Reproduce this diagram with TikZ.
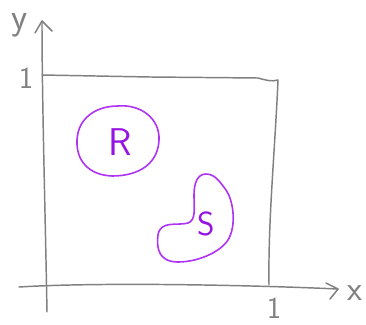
\documentclass[tikz,border=0pt]{standalone}
\usepackage{fontspec}
\definecolor{pen}{RGB}{128,128,128}
\definecolor{blob}{RGB}{175,50,245}
\definecolor{blobtext}{RGB}{150,20,225}
\begin{document}
\begin{tikzpicture}[x=0.75pt,y=-0.75pt,
  axis/.style={draw=pen,line width=1.1pt,line cap=round,line join=round},
  region/.style={draw=blob,line width=1.2pt},
  lbl/.style={text=pen,inner sep=0pt,font=\sffamily\fontsize{#1}{#1}\selectfont},
  rlbl/.style={text=blobtext,inner sep=0pt,font=\sffamily\fontsize{#1}{#1}\selectfont}]
\useasboundingbox (0,0) rectangle (366,324);
% axes
\coordinate (o) at (45,286);
\coordinate (ystart) at (47,312);
\coordinate (ytip) at (42,21);
\coordinate (xstart) at (19,287);
\coordinate (xtip) at (338,289);
\draw[axis] (ystart) .. controls (45,200) and (42,100) .. (ytip);
\draw[axis] (35,33) -- (ytip) -- (52,31);
\draw[axis] (xstart) .. controls (100,282) and (250,285) .. (xtip);
\draw[axis] (326,283) -- (xtip) -- (330,299);
% unit square
\coordinate (tl) at (42,75);
\coordinate (tr) at (278,80);
\coordinate (br) at (269,285);
\draw[axis] (tl) -- (150,77) -- (258,78) .. controls (265,80) and (272,82) .. (tr) .. controls (275,150) and (268,220) .. (br);
% labels
\node[lbl=28] (ylab) at (20,25) {y};
\node[lbl=23] (one_y) at (26,78) {1};
\node[lbl=23] (one_x) at (274,308) {1};
\node[lbl=26] (xlab) at (355,293) {x};
% region R
\draw[region] (118,106) .. controls (140,104) and (160,118) .. (159,140)
  .. controls (158,163) and (140,176) .. (112,176)
  .. controls (88,175) and (76,160) .. (77,140)
  .. controls (78,118) and (96,106) .. (118,106) -- cycle;
\node[rlbl=29] (R) at (120,142) {R};
% region S
\draw[region] (206,174) .. controls (198,174) and (194,182) .. (194,195)
  .. controls (194,210) and (196,220) .. (188,223)
  .. controls (178,226) and (160,220) .. (158,235)
  .. controls (156,250) and (160,262) .. (178,262)
  .. controls (200,262) and (225,250) .. (230,236)
  .. controls (236,222) and (233,200) .. (226,190)
  .. controls (220,182) and (215,174) .. (206,174) -- cycle;
\node[rlbl=25] (S) at (206,224) {S};
\end{tikzpicture}
\end{document}
